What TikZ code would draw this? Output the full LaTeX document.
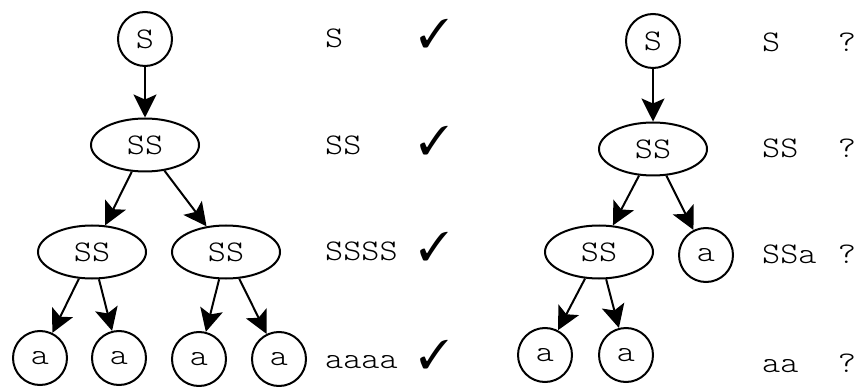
\documentclass[tikz,border=0pt]{standalone}
\usepackage{fontspec}
\usepackage{pifont}
\usetikzlibrary{shapes.geometric,arrows.meta}
\newfontfamily\baumfont[FakeStretch=1.15]{Latin Modern Mono Light}
\tikzset{
	knoten/.style={circle, draw, line width=2pt, minimum size=54pt,
	inner sep=0pt, font=\baumfont\fontsize{30}{32}\selectfont},
	ellknoten/.style={ellipse, draw, line width=2pt, minimum width=108pt,
	minimum height=53pt, inner sep=0pt, font=\baumfont\fontsize{30}{32}\selectfont},
	kante/.style={line width=2pt, -{Stealth[length=23pt, width=23pt, inset=5pt]}},
	wort/.style={anchor=base west, inner sep=0pt, font=\baumfont\fontsize{30}{32}\selectfont},
	haken/.style={anchor=base, inner sep=0pt, font=\fontsize{40}{42}\selectfont}
}
\begin{document}
\begin{tikzpicture}[x=1pt, y=-1pt]
	\useasboundingbox (0,0) rectangle (858,387);
	% Baum links
	\node[knoten] (ls) at (145,39) {S};
	\node[ellknoten] (lss) at (145,145) {SS};
	\node[ellknoten] (lssa) at (92,252) {SS};
	\node[ellknoten] (lssb) at (226,252) {SS};
	\node[knoten] (laa) at (40,358) {a};
	\node[knoten] (lab) at (119,358) {a};
	\node[knoten] (lac) at (199,359) {a};
	\node[knoten] (lad) at (279,359) {a};
	\draw[kante] (ls) -- (lss);
	\draw[kante] (lss) -- (lssa);
	\draw[kante] (lss) -- (lssb);
	\draw[kante] (lssa) -- (laa);
	\draw[kante] (lssa) -- (lab);
	\draw[kante] (lssb) -- (lac);
	\draw[kante] (lssb) -- (lad);
	% Ableitung links
	\foreach \y/\w in {48/S, 155/SS, 260/SSSS, 368/aaaa} {
		\node[wort] (lw\y) at (325,\y) {\w};
		\node[haken] (lh\y) at (434,\y) {\ding{51}};
	}
	% Baum rechts
	\node[knoten] (rs) at (653,41) {S};
	\node[ellknoten] (rss) at (653,149) {SS};
	\node[ellknoten] (rssa) at (599,252) {SS};
	\node[knoten] (raa) at (706,255) {a};
	\node[knoten] (rab) at (545,355) {a};
	\node[knoten] (rac) at (626,355) {a};
	\draw[kante] (rs) -- (rss);
	\draw[kante] (rss) -- (rssa);
	\draw[kante] (rss) -- (raa);
	\draw[kante] (rssa) -- (rab);
	\draw[kante] (rssa) -- (rac);
	% Ableitung rechts
	\foreach \y/\w in {52/S, 158/SS, 263/SSa, 372/aa} {
		\node[wort] (rw\y) at (762,\y) {\w};
		\node[wort, anchor=base] (rf\y) at (847,\y) {?};
	}
\end{tikzpicture}
\end{document}
